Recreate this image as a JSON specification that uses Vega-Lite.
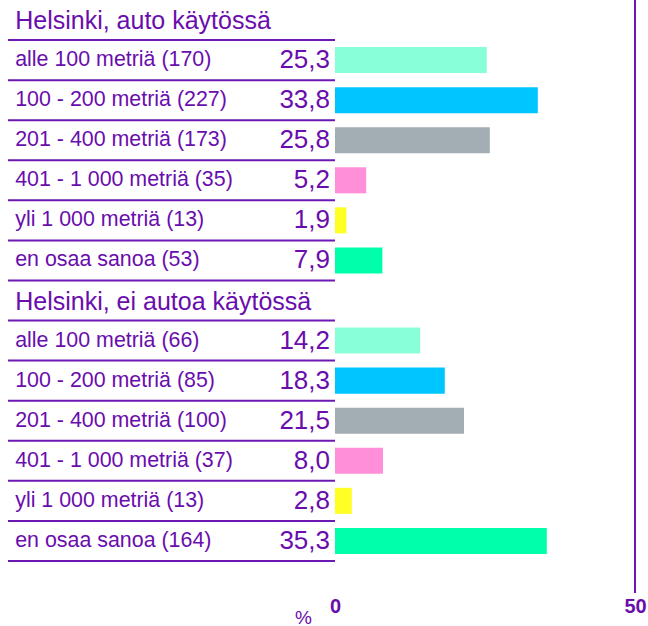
{
  "$schema": "https://vega.github.io/schema/vega-lite/v6.json",
  "width": 627,
  "height": 593,
  "autosize": {"type": "none"},
  "padding": {"left": 8, "top": 0, "right": 13, "bottom": 33},
  "background": "white",
  "config": {
    "view": {"stroke": null},
    "font": "Liberation Sans"
  },
  "data": {
    "values": [
      {"key": "A0", "name": "Helsinki, auto käytössä", "kind": "head", "pct": null, "txt": "", "cat": "h"},
      {"key": "A1", "name": "alle 100 metriä (170)", "kind": "row", "pct": 25.3, "txt": "25,3", "cat": "c1"},
      {"key": "A2", "name": "100 - 200 metriä (227)", "kind": "row", "pct": 33.8, "txt": "33,8", "cat": "c2"},
      {"key": "A3", "name": "201 - 400 metriä (173)", "kind": "row", "pct": 25.8, "txt": "25,8", "cat": "c3"},
      {"key": "A4", "name": "401 - 1 000 metriä (35)", "kind": "row", "pct": 5.2, "txt": "5,2", "cat": "c4"},
      {"key": "A5", "name": "yli 1 000 metriä (13)", "kind": "row", "pct": 1.9, "txt": "1,9", "cat": "c5"},
      {"key": "A6", "name": "en osaa sanoa (53)", "kind": "row", "pct": 7.9, "txt": "7,9", "cat": "c6"},
      {"key": "B0", "name": "Helsinki, ei autoa käytössä", "kind": "head", "pct": null, "txt": "", "cat": "h"},
      {"key": "B1", "name": "alle 100 metriä (66)", "kind": "row", "pct": 14.2, "txt": "14,2", "cat": "c1"},
      {"key": "B2", "name": "100 - 200 metriä (85)", "kind": "row", "pct": 18.3, "txt": "18,3", "cat": "c2"},
      {"key": "B3", "name": "201 - 400 metriä (100)", "kind": "row", "pct": 21.5, "txt": "21,5", "cat": "c3"},
      {"key": "B4", "name": "401 - 1 000 metriä (37)", "kind": "row", "pct": 8.0, "txt": "8,0", "cat": "c4"},
      {"key": "B5", "name": "yli 1 000 metriä (13)", "kind": "row", "pct": 2.8, "txt": "2,8", "cat": "c5"},
      {"key": "B6", "name": "en osaa sanoa (164)", "kind": "row", "pct": 35.3, "txt": "35,3", "cat": "c6"}
    ]
  },
  "layer": [
    {
      "mark": {"type": "rule", "color": "#6e18b4", "strokeWidth": 2},
      "encoding": {
        "y": {
          "field": "key",
          "type": "nominal",
          "sort": null,
          "bandPosition": 1,
          "scale": {"paddingInner": 0, "paddingOuter": 0.4, "align": 0},
          "axis": null
        },
        "x": {"datum": -54.5, "type": "quantitative"},
        "x2": {"datum": 0}
      }
    },
    {
      "mark": {"type": "bar", "height": {"band": 0.65}},
      "encoding": {
        "y": {"field": "key", "type": "nominal", "sort": null, "axis": null},
        "x": {
          "field": "pct",
          "type": "quantitative",
          "scale": {"domain": [-54.5, 50], "nice": false, "zero": false},
          "axis": {
            "values": [0, 50],
            "domain": false,
            "ticks": false,
            "grid": false,
            "labelFlush": false,
            "labelFont": "Liberation Sans",
            "labelFontSize": 20,
            "labelFontWeight": "bold",
            "labelColor": "#6a0dad",
            "labelPadding": 3,
            "labelBaseline": "top",
            "title": "%",
            "titleFont": "Liberation Sans",
            "titleFontSize": 19,
            "titleFontWeight": "normal",
            "titleColor": "#6a0dad",
            "titleX": 295,
            "titleY": 15,
            "titleAlign": "center",
            "titleBaseline": "top"
          }
        },
        "x2": {"datum": 0},
        "color": {
          "field": "cat",
          "type": "nominal",
          "scale": {
            "domain": ["c1", "c2", "c3", "c4", "c5", "c6"],
            "range": ["#88ffd8", "#00c6ff", "#a3aeb4", "#ff8fd8", "#ffff26", "#00ffaa"]
          },
          "legend": null
        }
      }
    },
    {
      "transform": [{"filter": "datum.kind === 'row'"}],
      "mark": {"type": "text", "align": "right", "baseline": "middle", "dx": -5, "dy": 0, "fontSize": 26, "font": "Liberation Sans", "color": "#6a0dad"},
      "encoding": {
        "y": {"field": "key", "type": "nominal", "sort": null, "axis": null},
        "x": {"datum": 0, "type": "quantitative"},
        "text": {"field": "txt", "type": "nominal"}
      }
    },
    {
      "transform": [{"filter": "datum.kind === 'row'"}],
      "mark": {"type": "text", "align": "left", "baseline": "middle", "dy": 0, "fontSize": 21.4, "font": "Liberation Sans", "color": "#6a0dad"},
      "encoding": {
        "y": {"field": "key", "type": "nominal", "sort": null, "axis": null},
        "x": {"datum": -53.3, "type": "quantitative"},
        "text": {"field": "name", "type": "nominal"}
      }
    },
    {
      "transform": [{"filter": "datum.kind === 'head'"}],
      "mark": {"type": "text", "align": "left", "baseline": "middle", "dy": 1, "fontSize": 25, "font": "Liberation Sans", "color": "#6a0dad"},
      "encoding": {
        "y": {"field": "key", "type": "nominal", "sort": null, "axis": null},
        "x": {"datum": -53.3, "type": "quantitative"},
        "text": {"field": "name", "type": "nominal"}
      }
    },
    {
      "mark": {"type": "rule", "color": "#6e18b4", "strokeWidth": 2},
      "encoding": {
        "x": {"datum": 50, "type": "quantitative"}
      }
    }
  ]
}
